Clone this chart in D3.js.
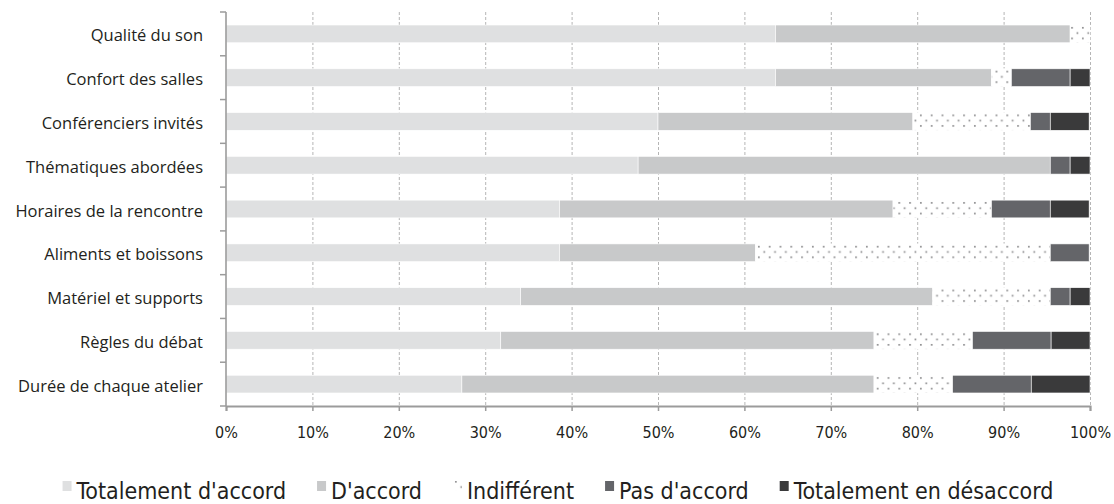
<!DOCTYPE html>
<html>
<head>
<meta charset="utf-8">
<script src="https://cdn.jsdelivr.net/npm/d3@7"></script>
<style>
  body { margin: 0; background: #fff; }
  svg { display: block; }
  .cat { font-family: "Open Sans", Lato, sans-serif; font-size: 16.5px; fill: #231f20; }
  .tick-label { font-family: "DejaVu Sans", sans-serif; font-stretch: condensed; font-size: 16px; fill: #231f20; }
  .legend text { font-family: "DejaVu Sans", sans-serif; font-stretch: condensed; font-size: 23px; fill: #231f20; }
</style>
</head>
<body>
<svg width="1114" height="504"></svg>
<script>
const categories = [
    "Qualité du son",
    "Confort des salles",
    "Conférenciers invités",
    "Thématiques abordées",
    "Horaires de la rencontre",
    "Aliments et boissons",
    "Matériel et supports",
    "Règles du débat",
    "Durée de chaque atelier"
];
const seriesNames = ["Totalement d'accord", "D'accord", "Indifférent", "Pas d'accord", "Totalement en désaccord"];

// percentages per category, in the order above
const totalementAccord = [63.6, 63.6, 50.0, 47.7, 38.6, 38.6, 34.1, 31.8, 27.3];
const dAccord          = [34.1, 25.0, 29.5, 47.7, 38.6, 22.7, 47.7, 43.2, 47.7];
const indifferent      = [ 2.3,  2.3, 13.6,  0.0, 11.4, 34.1, 13.6, 11.4,  9.1];
const pasAccord        = [ 0.0,  6.8,  2.3,  2.3,  6.8,  4.5,  2.3,  9.1,  9.1];
const totDesaccord     = [ 0.0,  2.3,  4.5,  2.3,  4.5,  0.0,  2.3,  4.5,  6.8];

const xTicks = [0, 10, 20, 30, 40, 50, 60, 70, 80, 90, 100];
const colors = ["#dfe0e1", "#c8c9ca", "dots", "#646569", "#3a3a3b"];

const svg = d3.select("svg");
const margin = {left: 226, right: 24, top: 12, bottom: 98};
const width = 1114 - margin.left - margin.right;
const height = 504 - margin.top - margin.bottom;

const rows = categories.map((c, i) => ({
    cat: c,
    values: [totalementAccord[i], dAccord[i], indifferent[i], pasAccord[i], totDesaccord[i]]
}));

const x = d3.scaleLinear().domain([0, 100]).range([margin.left, margin.left + width]);
const y = d3.scaleBand().domain(categories).range([margin.top, margin.top + height]).paddingInner(0.595).paddingOuter(0.2975);

// dotted pattern for "Indifférent", one per row so the dots line up with the bar
const defs = svg.append("defs");
function dotPattern(id, y0) {
    const p = defs.append("pattern")
        .attr("id", id)
        .attr("patternUnits", "userSpaceOnUse")
        .attr("x", 0)
        .attr("y", y0)
        .attr("width", 10.8)
        .attr("height", 10.6);
    p.append("rect").attr("width", 10.8).attr("height", 10.6).attr("fill", "#fff");
    p.append("rect").attr("x", 2).attr("y", 1.9).attr("width", 1.7).attr("height", 1.7).attr("fill", "#8e8e90");
    p.append("rect").attr("x", 7.4).attr("y", 7.2).attr("width", 1.7).attr("height", 1.7).attr("fill", "#8e8e90");
}
categories.forEach((c, i) => dotPattern("dots" + i, y(c)));
dotPattern("dotsLegend", 479);

function fillFor(k, i) {
    return colors[k] === "dots" ? `url(#dots${i})` : colors[k];
}

// grid
svg.append("g")
    .selectAll("line")
    .data(xTicks.slice(1))
    .enter()
    .append("line")
    .attr("x1", d => x(d) + 0.5)
    .attr("x2", d => x(d) + 0.5)
    .attr("y1", margin.top)
    .attr("y2", margin.top + height)
    .attr("stroke", "#b5b5b5")
    .attr("stroke-width", 1)
    .attr("stroke-dasharray", "3,2");

// bars
const rowG = svg.append("g")
    .selectAll("g")
    .data(rows)
    .enter()
    .append("g");

rowG.selectAll("rect")
    .data((d, i) => {
        let acc = 0;
        return d.values.map((v, k) => {
            const s = {cat: d.cat, i: i, k: k, x0: acc, x1: acc + v};
            acc += v;
            return s;
        }).filter(s => s.x1 > s.x0);
    })
    .enter()
    .append("rect")
    .attr("x", d => x(d.x0))
    .attr("width", d => x(d.x1) - x(d.x0))
    .attr("y", d => y(d.cat))
    .attr("height", y.bandwidth())
    .attr("fill", d => fillFor(d.k, d.i))
    .attr("stroke", "#fff")
    .attr("stroke-width", 0.6);

// axes
const axisColor = "#9b9b9b";
svg.append("line")
    .attr("x1", margin.left).attr("x2", margin.left)
    .attr("y1", margin.top).attr("y2", margin.top + height)
    .attr("stroke", axisColor).attr("stroke-width", 1.6);
// tick marks between categories
const bounds = categories.map(c => y(c) - y.step() * y.paddingInner() / 2);
bounds.push(margin.top + height);
svg.append("g")
    .selectAll("line")
    .data(bounds)
    .enter()
    .append("line")
    .attr("x1", margin.left - 6).attr("x2", margin.left)
    .attr("y1", d => d).attr("y2", d => d)
    .attr("stroke", axisColor).attr("stroke-width", 1.5);

svg.append("g")
    .selectAll("text")
    .data(categories)
    .enter()
    .append("text")
    .attr("class", "cat")
    .attr("x", margin.left - 23)
    .attr("y", d => y(d) + y.bandwidth() / 2)
    .attr("dy", "0.46em")
    .attr("text-anchor", "end")
    .text(d => d);

const xAxis = svg.append("g")
    .attr("transform", `translate(0,${margin.top + height})`)
    .call(d3.axisBottom(x).tickValues(xTicks).tickSize(5).tickPadding(16).tickFormat(d => d + "%"));
xAxis.select(".domain").attr("stroke", axisColor).attr("stroke-width", 2);
xAxis.selectAll(".tick line").attr("stroke", axisColor).attr("stroke-width", 1.5);
xAxis.selectAll(".tick text").attr("class", "tick-label").attr("font-family", null).attr("font-size", null);

// legend, laid out from the measured text widths and centred under the chart
const legend = svg.append("g").attr("class", "legend");
const items = legend.selectAll("g")
    .data(seriesNames)
    .enter()
    .append("g");
items.append("rect")
    .attr("x", 0).attr("y", 481)
    .attr("width", 9).attr("height", 10)
    .attr("fill", (d, i) => colors[i] === "dots" ? "url(#dotsLegend)" : colors[i]);
items.append("text")
    .attr("x", 14)
    .attr("y", 499)
    .text(d => d);

let pos = 0;
const offsets = [];
items.each(function() {
    offsets.push(pos);
    pos += 14 + d3.select(this).select("text").node().getComputedTextLength() + 31;
});
const total = pos - 31;
const start = 558 - total / 2;
items.attr("transform", (d, i) => `translate(${start + offsets[i]},0)`);
</script>
</body>
</html>
